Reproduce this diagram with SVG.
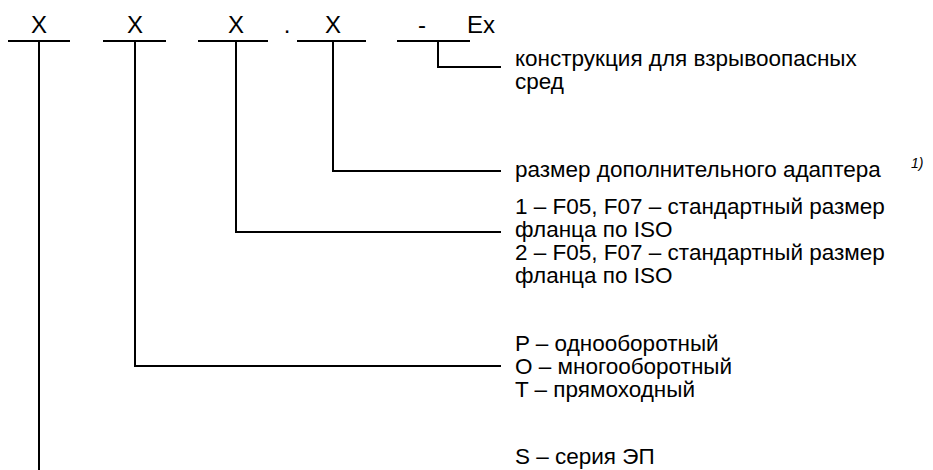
<svg xmlns="http://www.w3.org/2000/svg" width="933" height="470" viewBox="0 0 933 470">
<style>
  .ln { stroke: #000; stroke-width: 2; fill: none; }
  .t { font-family: "Liberation Sans", Arial, sans-serif; font-size: 22.5px; fill: #000; }
  .code { font-family: "Liberation Sans", Arial, sans-serif; font-size: 24px; fill: #000; }
  .sup { font-family: "Liberation Sans", Arial, sans-serif; font-size: 14px; font-style: italic; fill: #000; }
</style>
<rect width="933" height="470" fill="#fff"/>
<g id="code">
  <text class="code" x="39" y="33" text-anchor="middle">X</text>
  <text class="code" x="135" y="33" text-anchor="middle">X</text>
  <text class="code" x="236" y="33" text-anchor="middle">X</text>
  <text class="code" x="287" y="33" text-anchor="middle">.</text>
  <text class="code" x="333" y="33" text-anchor="middle">X</text>
  <text class="code" x="422" y="33" text-anchor="middle">-</text>
  <text class="code" x="467" y="33">Ex</text>
</g>
<g id="connectors">
  <line class="ln" x1="8" y1="41" x2="70" y2="41"/>
  <line class="ln" x1="103" y1="41" x2="166" y2="41"/>
  <line class="ln" x1="198" y1="41" x2="268" y2="41"/>
  <line class="ln" x1="297" y1="41" x2="366" y2="41"/>
  <line class="ln" x1="397" y1="41" x2="470" y2="41"/>
  <polyline class="ln" points="438,41 438,67 501,67"/>
  <polyline class="ln" points="333,41 333,171 501,171"/>
  <polyline class="ln" points="236,41 236,232 501,232"/>
  <polyline class="ln" points="135,41 135,366 501,366"/>
  <line class="ln" x1="39" y1="41" x2="39" y2="470"/>
</g>
<g id="label-ex">
  <text class="t" x="515" y="66">конструкция для взрывоопасных</text>
  <text class="t" x="515" y="89">сред</text>
</g>
<g id="label-adapter">
  <text class="t" x="515" y="177">размер дополнительного адаптера</text>
  <text class="sup" x="911" y="168">1)</text>
</g>
<g id="label-flange">
  <text class="t" x="515" y="214">1 – F05, F07 – стандартный размер</text>
  <text class="t" x="515" y="237">фланца по ISO</text>
  <text class="t" x="515" y="260">2 – F05, F07 – стандартный размер</text>
  <text class="t" x="515" y="283">фланца по ISO</text>
</g>
<g id="label-type">
  <text class="t" x="515" y="351">P – однооборотный</text>
  <text class="t" x="515" y="374">O – многооборотный</text>
  <text class="t" x="515" y="397">T – прямоходный</text>
</g>
<g id="label-series">
  <text class="t" x="515" y="464">S – серия ЭП</text>
</g>
</svg>
